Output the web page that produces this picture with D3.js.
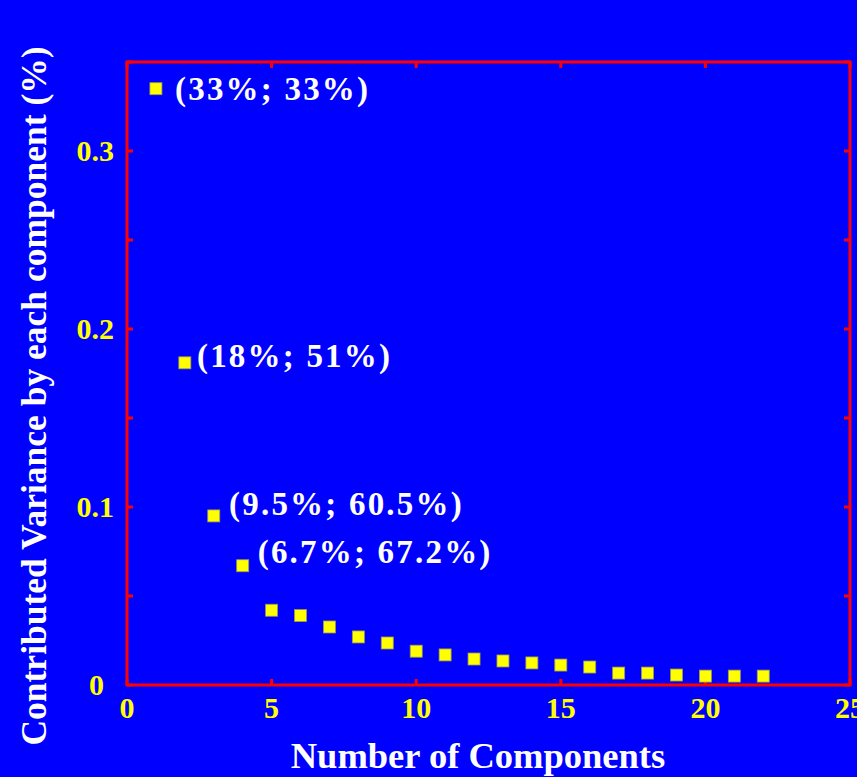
<!DOCTYPE html>
<html>
<head>
<meta charset="utf-8">
<script src="https://cdn.jsdelivr.net/npm/d3@7"></script>
<style>
  body { margin: 0; background: #0000ff; }
  svg { display: block; }
  text { font-family: "Liberation Serif", "Times New Roman", serif; font-weight: bold; }
</style>
</head>
<body>
<div id="myPlot"></div>
<script>
const components = [1, 2, 3, 4, 5, 6, 7, 8, 9, 10, 11, 12, 13, 14, 15, 16, 17, 18, 19, 20, 21, 22]
const variance = [0.335, 0.181, 0.095, 0.067, 0.042, 0.039, 0.0326, 0.027, 0.0236, 0.019, 0.0169, 0.0146,
    0.0135, 0.0124, 0.0112, 0.0101, 0.0067, 0.0067, 0.0056, 0.005, 0.005, 0.005]
const xTicks = [0, 5, 10, 15, 20, 25]
const yTicks = [0, 0.1, 0.2, 0.3]
const yMinorTicks = [0, 0.05, 0.1, 0.15, 0.2, 0.25, 0.3, 0.35]
const labelText = ["(33%; 33%)", "(18%; 51%)", "(9.5%; 60.5%)", "(6.7%; 67.2%)"]
const labelX = [1.66, 2.42, 3.53, 4.52]
const labelY = [0.335, 0.185, 0.1015, 0.0745]

const width = 857
const height = 777
const margin = {top: 62, right: 7, bottom: 92, left: 127}

const svg = d3.select("#myPlot").append("svg")
    .attr("width", width)
    .attr("height", height)

svg.append("rect")
    .attr("width", width)
    .attr("height", height)
    .attr("fill", "#0000ff")

const xScale = d3.scaleLinear()
    .domain([0, 25])
    .range([margin.left, width - margin.right])

const yScale = d3.scaleLinear()
    .domain([0, 0.35])
    .range([height - margin.bottom, margin.top])

const x0 = xScale.range()[0], x1 = xScale.range()[1]
const y0 = yScale.range()[0], y1 = yScale.range()[1]
const tickLen = 6

// inward ticks on all four sides
const ticks = svg.append("g").attr("stroke", "red").attr("stroke-width", 3)

xTicks.forEach(t => {
    ticks.append("line")
        .attr("x1", xScale(t)).attr("x2", xScale(t))
        .attr("y1", y0).attr("y2", y0 - tickLen)
    ticks.append("line")
        .attr("x1", xScale(t)).attr("x2", xScale(t))
        .attr("y1", y1).attr("y2", y1 + tickLen)
})

yMinorTicks.forEach(t => {
    ticks.append("line")
        .attr("x1", x0).attr("x2", x0 + tickLen)
        .attr("y1", yScale(t)).attr("y2", yScale(t))
    ticks.append("line")
        .attr("x1", x1).attr("x2", x1 - tickLen)
        .attr("y1", yScale(t)).attr("y2", yScale(t))
})

svg.append("rect")
    .attr("x", x0)
    .attr("y", y1)
    .attr("width", x1 - x0)
    .attr("height", y0 - y1)
    .attr("fill", "none")
    .attr("stroke", "red")
    .attr("stroke-width", 3)

// tick labels
svg.append("g").selectAll("text")
    .data(xTicks)
    .enter().append("text")
    .attr("x", d => xScale(d))
    .attr("y", y0 + 33)
    .attr("text-anchor", "middle")
    .attr("fill", "yellow")
    .attr("font-size", 30)
    .text(d => d)

svg.append("g").selectAll("text")
    .data(yTicks)
    .enter().append("text")
    .attr("x", d => d === 0 ? x0 - 23 : x0 - 13)
    .attr("y", d => yScale(d) + 10)
    .attr("text-anchor", "end")
    .attr("fill", "yellow")
    .attr("font-size", 30)
    .text(d => d)

// points
const size = 12
svg.append("g").selectAll(".dot")
    .data(components)
    .enter().append("rect")
    .attr("class", "dot")
    .attr("x", (d, i) => xScale(d) - size / 2)
    .attr("y", (d, i) => yScale(variance[i]) - size / 2)
    .attr("width", size)
    .attr("height", size)
    .attr("fill", "yellow")
    .attr("stroke", "#9a9a50")
    .attr("stroke-width", 0.8)

// annotations
svg.append("g").selectAll("text")
    .data(labelText)
    .enter().append("text")
    .attr("x", (d, i) => xScale(labelX[i]))
    .attr("y", (d, i) => yScale(labelY[i]) + 11)
    .attr("fill", "white")
    .attr("font-size", 33)
    .attr("letter-spacing", 2.2)
    .text(d => d)

// axis titles
svg.append("text")
    .attr("x", 478)
    .attr("y", 768)
    .attr("text-anchor", "middle")
    .attr("fill", "white")
    .attr("font-size", 36.5)
    .text("Number of Components")

svg.append("text")
    .attr("transform", `translate(46, 396) rotate(-90)`)
    .attr("text-anchor", "middle")
    .attr("fill", "white")
    .attr("font-size", 35.5)
    .text("Contributed Variance by each component (%)")
</script>
</body>
</html>
